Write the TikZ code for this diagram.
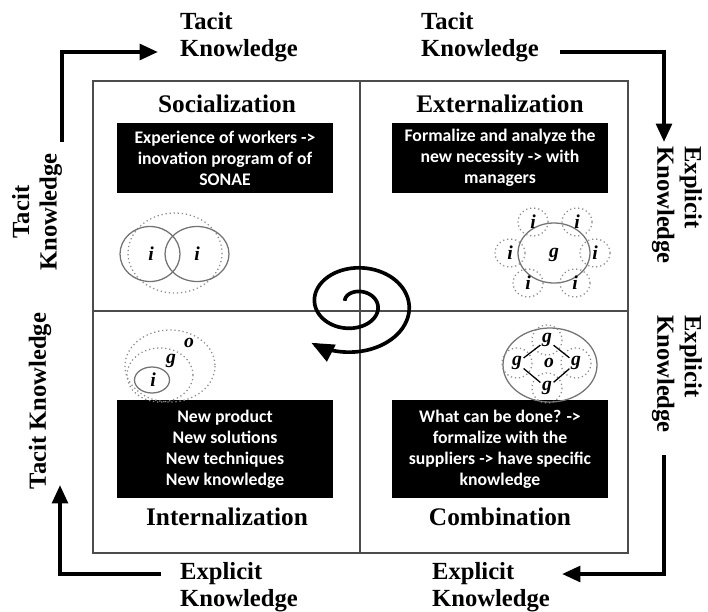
\documentclass[tikz,border=0pt]{standalone}
\usepackage{fontspec}
\setmainfont{Liberation Serif}
\newfontfamily\calibri{Carlito}
\usetikzlibrary{arrows.meta}
\begin{document}
\begin{tikzpicture}[x=0.025cm,y=-0.025cm,
    head/.style={font=\fontsize{18}{21}\selectfont\bfseries},
    side/.style={font=\fontsize{17.5}{19.5}\selectfont\bfseries, align=left, inner sep=0pt},
    note/.style={fill=black, text=white, align=center, inner sep=0pt, minimum width=5.4cm,
      font=\calibri\bfseries\fontsize{12.6}{15}\selectfont},
    flow/.style={line width=2.8pt, -{Triangle[length=13pt,width=11pt]}},
    ring/.style={draw=black!55, line width=0.9pt},
    dots/.style={draw=black!45, dotted, line width=0.9pt},
    var/.style={font=\fontsize{14}{14}\selectfont\bfseries\itshape, inner sep=1pt}]
  \useasboundingbox (0,0) rectangle (708,611);
  % the four modes
  \draw[line width=1.1pt, black!70] (93,81) rectangle (628,553);
  \draw[line width=1.1pt, black!70] (360,81) -- (360,553) (93,311) -- (628,311);
  \node[head] (soc) at (227,104) {Socialization};
  \node[head] (ext) at (500,104) {Externalization};
  \node[head] (int) at (227,517) {Internalization};
  \node[head] (com) at (500,517) {Combination};
  \node[note, minimum height=1.75cm] (socnote) at (225,158) {Experience of workers ->\\inovation program of of\\SONAE};
  \node[note, minimum height=1.75cm] (extnote) at (500,158) {Formalize and analyze the\\new necessity -> with\\managers};
  \node[note, minimum height=2.45cm] (intnote) at (225,449) {New product\\New solutions\\New techniques\\New knowledge};
  \node[note, minimum height=2.45cm] (comnote) at (500,449) {What can be done? ->\\formalize with the\\suppliers -> have specific\\knowledge};
  % outer labels and arrows
  \node[side] (tk1) at (239,37) {Tacit\\Knowledge};
  \node[side] (tk2) at (480,37) {Tacit\\Knowledge};
  \node[side, rotate=-90, anchor=west] (ek1) at (677,146) {Explicit\\Knowledge};
  \node[side, rotate=-90, anchor=west] (ek2) at (677,315) {Explicit\\Knowledge};
  \node[side] (ek3) at (491,587) {Explicit\\Knowledge};
  \node[side] (ek4) at (239,587) {Explicit\\Knowledge};
  \node[side, rotate=90, align=center] (tk3) at (37,212) {Tacit\\Knowledge};
  \node[side, rotate=90] (tk4) at (40,401) {Tacit Knowledge};
  \coordinate (c1) at (62,142);
  \coordinate (c2) at (158,52);
  \coordinate (c3) at (560,52);
  \coordinate (c4) at (664,142);
  \coordinate (c5) at (664,455);
  \coordinate (c6) at (562,574);
  \coordinate (c7) at (161,574);
  \coordinate (c8) at (60,485);
  \draw[flow] (c1) |- (c2);
  \draw[flow] (c3) -| (c4);
  \draw[flow] (c5) |- (c6);
  \draw[flow] (c7) -| (c8);
  % spiral
  \draw[line width=2.6pt, -{Triangle[length=16pt,width=13pt]}]
    plot[domain=205:850, samples=140, smooth, variable=\t]
    ({354+1.31*(12+(\t-270)/15)*cos(\t)}, {304+(12+(\t-270)/15)*sin(\t)});
  % socialization
  \draw[dots] (175,253) ellipse [x radius=47, y radius=40];
  \draw[ring] (150,254) ellipse [x radius=30, y radius=27.5];
  \draw[ring] (197,254) ellipse [x radius=32, y radius=27.5];
  \node[var] (si1) at (151,254) {i};
  \node[var] (si2) at (197,254) {i};
  % externalization
  \draw[ring] (554,253) ellipse [x radius=36, y radius=30];
  \node[var] (eg) at (554,255) {g};
  \foreach \x/\y/\n in {533/222/1, 577/222/2, 510/253/3, 595/253/4, 528/283/5, 575/283/6} {
    \draw[dots] (\x,\y) ellipse [x radius=15, y radius=14];
    \node[var] (ei\n) at (\x,\y) {i};
  }
  % internalization
  \draw[dots] (170,366) ellipse [x radius=45, y radius=36];
  \draw[dots] (160,375) ellipse [x radius=33, y radius=27];
  \draw[ring] (152,380) ellipse [x radius=17.5, y radius=13];
  \node[var] (io) at (189,343) {o};
  \node[var] (ig) at (171,361) {g};
  \node[var] (ii) at (153,380) {i};
  % combination
  \draw[ring] (550,365) ellipse [x radius=47, y radius=37];
  \foreach \x/\y/\n in {547/340/1, 517/363/2, 576/363/3, 547/388/4} {
    \draw[dots] (\x,\y) circle [radius=15];
    \node[var] (cg\n) at (\x,\y) {g};
  }
  \node[var] (co) at (549,363) {o};
  \draw[line width=0.9pt] (cg1) -- (cg2) -- (cg4) -- (cg3) -- (cg1);
\end{tikzpicture}
\end{document}
